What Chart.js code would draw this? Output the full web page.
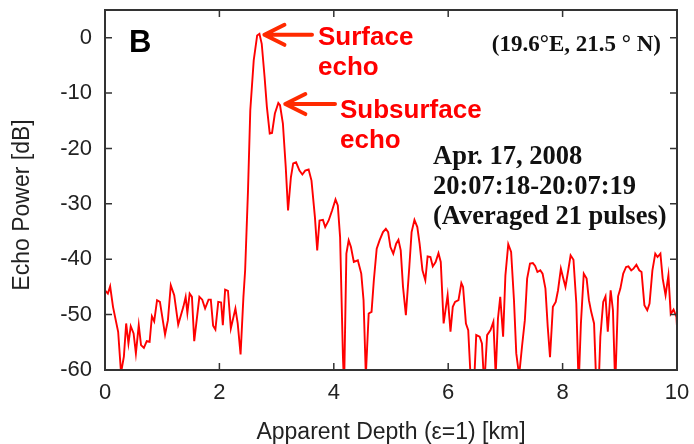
<!DOCTYPE html>
<html>
<head>
<meta charset="utf-8">
<script src="https://cdn.jsdelivr.net/npm/chart.js@4/dist/chart.umd.min.js"></script>
<style>
  body { margin: 0; background: #fff; }
</style>
</head>
<body>
<canvas id="myChart" width="694" height="444"></canvas>
<script>
  // apparent depth (km) and echo power (dB)
  const depth = [
    0.00, 0.05, 0.09, 0.14, 0.23, 0.28, 0.33, 0.37, 0.41, 0.45, 0.50, 0.54, 0.59, 0.63, 0.68, 0.73, 0.78, 0.82, 0.86, 0.91,
    0.96, 1.05, 1.10, 1.15, 1.21, 1.28, 1.37, 1.41, 1.44, 1.48, 1.52, 1.56, 1.65, 1.70, 1.75, 1.81, 1.85, 1.89, 1.93, 1.98,
    2.03, 2.06, 2.10, 2.15, 2.20, 2.28, 2.32, 2.37, 2.42, 2.45, 2.50, 2.54, 2.60, 2.66, 2.70, 2.74, 2.79, 2.83, 2.88, 2.92,
    2.97, 3.03, 3.06, 3.11, 3.16, 3.20, 3.25, 3.29, 3.34, 3.40, 3.45, 3.50, 3.56, 3.61, 3.67, 3.71, 3.75, 3.81, 3.85, 3.91,
    3.97, 4.03, 4.07, 4.11, 4.16, 4.18, 4.22, 4.26, 4.30, 4.35, 4.42, 4.48, 4.52, 4.56, 4.61, 4.66, 4.70, 4.75, 4.80, 4.86,
    4.91, 4.95, 4.99, 5.04, 5.09, 5.13, 5.17, 5.21, 5.26, 5.32, 5.36, 5.41, 5.46, 5.50, 5.55, 5.60, 5.64, 5.69, 5.73, 5.78,
    5.83, 5.87, 5.92, 5.99, 6.04, 6.08, 6.12, 6.18, 6.23, 6.26, 6.31, 6.35, 6.40, 6.45, 6.49, 6.55, 6.59, 6.63, 6.68, 6.74,
    6.79, 6.83, 6.87, 6.91, 6.96, 7.00, 7.05, 7.10, 7.15, 7.19, 7.24, 7.29, 7.34, 7.38, 7.43, 7.48, 7.52, 7.56, 7.61, 7.65,
    7.70, 7.74, 7.78, 7.83, 7.88, 7.92, 7.97, 8.01, 8.05, 8.10, 8.14, 8.19, 8.24, 8.28, 8.32, 8.37, 8.42, 8.46, 8.50, 8.55,
    8.59, 8.63, 8.66, 8.71, 8.75, 8.79, 8.84, 8.88, 8.92, 8.97, 9.01, 9.06, 9.11, 9.15, 9.20, 9.24, 9.29, 9.34, 9.38, 9.43,
    9.48, 9.52, 9.57, 9.62, 9.66, 9.71, 9.75, 9.80, 9.85, 9.89, 9.94, 9.99, 10.00
  ];
  const power = [
    -45.6, -46.2, -44.9, -48.6, -53.1, -60.5, -57.6, -51.6, -55.2, -52.1, -53.4, -57.0, -51.9, -55.5, -56.0, -54.8, -54.9, -50.3, -51.2, -47.4,
    -47.7, -53.6, -51.0, -44.7, -46.5, -51.8, -48.6, -46.8, -49.7, -46.2, -46.8, -54.8, -46.8, -47.3, -48.9, -47.3, -47.3, -52.0, -52.7, -47.7,
    -47.8, -51.9, -45.5, -45.7, -52.5, -48.9, -51.6, -57.2, -46.8, -42.0, -27.6, -13.1, -4.1, 0.4, 0.7, -1.1, -7.1, -12.5, -17.3, -17.2,
    -13.7, -11.8, -12.2, -15.5, -23.4, -31.2, -25.2, -22.7, -22.5, -24.0, -24.7, -24.0, -23.8, -25.8, -32.4, -38.4, -33.0, -32.9, -34.2, -33.0,
    -31.2, -29.2, -30.3, -36.0, -57.7, -63.0, -39.0, -36.6, -37.8, -40.5, -40.2, -42.6, -47.4, -61.0, -49.8, -49.5, -43.8, -38.1, -36.6, -35.1,
    -34.5, -35.1, -37.8, -39.0, -37.2, -36.5, -38.4, -45.0, -50.1, -41.4, -35.1, -32.9, -34.2, -37.2, -42.0, -43.8, -39.5, -39.6, -41.3, -40.5,
    -38.9, -40.5, -51.6, -46.5, -53.1, -48.6, -47.7, -47.4, -44.3, -45.0, -51.6, -52.8, -63.0, -63.0, -53.7, -54.0, -55.2, -63.0, -53.7, -52.8,
    -51.3, -61.0, -50.7, -46.8, -54.0, -42.9, -37.3, -38.7, -47.4, -57.0, -61.0, -55.8, -51.0, -43.5, -40.8, -40.7, -41.2, -42.3, -42.0, -42.6,
    -45.3, -52.2, -57.7, -48.6, -47.7, -45.6, -41.7, -43.4, -45.0, -41.9, -39.3, -40.1, -48.0, -63.0, -51.6, -42.6, -43.5, -47.4, -49.5, -51.6,
    -63.0, -63.0, -54.0, -47.7, -46.7, -53.1, -45.6, -49.2, -63.0, -46.7, -45.3, -42.6, -41.4, -41.3, -42.0, -41.7, -41.0, -42.0, -42.3, -48.3,
    -49.2, -48.0, -42.0, -39.0, -39.6, -39.0, -43.5, -46.5, -42.9, -49.9, -49.1, -50.4, -52.2
  ];
  const xTicks = [0, 2, 4, 6, 8, 10];
  const yTicks = [-60, -50, -40, -30, -20, -10, 0];

  const axisColor = '#333';
  const red = '#ff0000';
  const arrowRed = '#ff2a00';

  // gnuplot style: box frame with inward ticks on all four sides, plus the labels
  const framePlugin = {
    id: 'frame',
    afterDraw(chart) {
      const ctx = chart.ctx;
      const a = chart.chartArea;
      const xs = chart.scales.x, ys = chart.scales.y;
      ctx.save();
      ctx.strokeStyle = axisColor;
      ctx.lineWidth = 1.5;
      xTicks.forEach(v => {
        const px = xs.getPixelForValue(v);
        ctx.beginPath();
        ctx.moveTo(px, a.bottom); ctx.lineTo(px, a.bottom - 7);
        ctx.moveTo(px, a.top); ctx.lineTo(px, a.top + 7);
        ctx.stroke();
      });
      yTicks.forEach(v => {
        const py = ys.getPixelForValue(v);
        ctx.beginPath();
        ctx.moveTo(a.left, py); ctx.lineTo(a.left + 7, py);
        ctx.moveTo(a.right, py); ctx.lineTo(a.right - 7, py);
        ctx.stroke();
      });
      ctx.lineWidth = 2;
      ctx.strokeRect(a.left, a.top, a.right - a.left, a.bottom - a.top);

      // y axis title, sits a little below the middle of the frame
      ctx.save();
      ctx.translate(23, 205);
      ctx.rotate(-Math.PI / 2);
      ctx.fillStyle = '#222';
      ctx.font = '23px "Liberation Sans", Arial, sans-serif';
      ctx.textAlign = 'center';
      ctx.textBaseline = 'middle';
      ctx.fillText('Echo Power [dB]', 0, 0);
      ctx.restore();

      // panel letter
      ctx.fillStyle = '#000';
      ctx.font = 'bold 31px "Liberation Sans", Arial, sans-serif';
      ctx.textAlign = 'left';
      ctx.textBaseline = 'alphabetic';
      ctx.fillText('B', 129, 52);

      // arrows
      function arrow(x1, y1, x2, y2) {
        ctx.strokeStyle = arrowRed;
        ctx.lineWidth = 4;
        ctx.lineCap = 'round';
        ctx.lineJoin = 'round';
        ctx.beginPath();
        ctx.moveTo(x1, y1); ctx.lineTo(x2, y2);
        ctx.moveTo(x2 + 20, y2 - 10); ctx.lineTo(x2, y2); ctx.lineTo(x2 + 20, y2 + 10);
        ctx.stroke();
      }
      const peakX = xs.getPixelForValue(2.7), peakY = ys.getPixelForValue(0.7);
      arrow(312, peakY + 1, peakX + 5, peakY + 1);
      const subX = xs.getPixelForValue(3.03), subY = ys.getPixelForValue(-11.8);
      arrow(335, subY + 1, subX + 7, subY + 1);

      ctx.fillStyle = red;
      ctx.font = 'bold 26px "Liberation Sans", Arial, sans-serif';
      ctx.fillText('Surface', 318, 45);
      ctx.fillText('echo', 318, 75);
      ctx.fillText('Subsurface', 340, 118);
      ctx.fillText('echo', 340, 148);

      ctx.fillStyle = '#111';
      ctx.font = 'bold 23px "Liberation Serif", "Times New Roman", serif';
      ctx.textAlign = 'right';
      ctx.fillText('(19.6°E, 21.5 ° N)', 661, 51);
      ctx.textAlign = 'left';
      ctx.font = 'bold 26.5px "Liberation Serif", "Times New Roman", serif';
      ctx.fillText('Apr. 17, 2008', 433, 164);
      ctx.fillText('20:07:18-20:07:19', 433, 194);
      ctx.fillText('(Averaged 21 pulses)', 433, 224);
      ctx.restore();
    }
  };

  const points = depth.map((d, i) => ({ x: d, y: power[i] }));

  const data = {
    datasets: [{
      label: 'Echo power',
      data: points,
      borderColor: red,
      borderWidth: 1.9,
      pointRadius: 0,
      tension: 0,
      fill: false,
      clip: 0,
    }],
  };

  const tickFont = { family: '"Liberation Sans", Arial, sans-serif', size: 22 };
  const titleFont = { family: '"Liberation Sans", Arial, sans-serif', size: 23 };

  const config = {
    type: 'line',
    data: data,
    options: {
      responsive: false,
      animation: false,
      layout: { padding: { top: 10, right: 17, left: 8, bottom: 0 } },
      plugins: { legend: { display: false }, tooltip: { enabled: false } },
      scales: {
        x: {
          type: 'linear',
          min: 0,
          max: 10,
          grid: { display: false },
          border: { display: false },
          ticks: { stepSize: 2, color: '#222', font: tickFont, padding: 2, maxRotation: 0 },
          title: { display: true, text: 'Apparent Depth (ε=1) [km]', color: '#222', font: { ...titleFont, lineHeight: 0.65 } },
          afterFit(scale) {
            scale.height = 74;
            scale.paddingLeft = 0;
            scale.paddingRight = 0;
          },
        },
        y: {
          min: -60,
          max: 5,
          grid: { display: false },
          border: { display: false },
          afterBuildTicks(scale) { scale.ticks = scale.ticks.filter(t => t.value <= 0); },
          ticks: { stepSize: 10, color: '#222', font: tickFont, padding: 5 },
          title: { display: false },
          afterFit(scale) {
            scale.width = 97;
            scale.paddingTop = 0;
            scale.paddingBottom = 0;
          },
        },
      },
    },
    plugins: [framePlugin],
  };

  const ctx = document.getElementById('myChart');
  const myChart = new Chart(ctx, config);
</script>
</body>
</html>
